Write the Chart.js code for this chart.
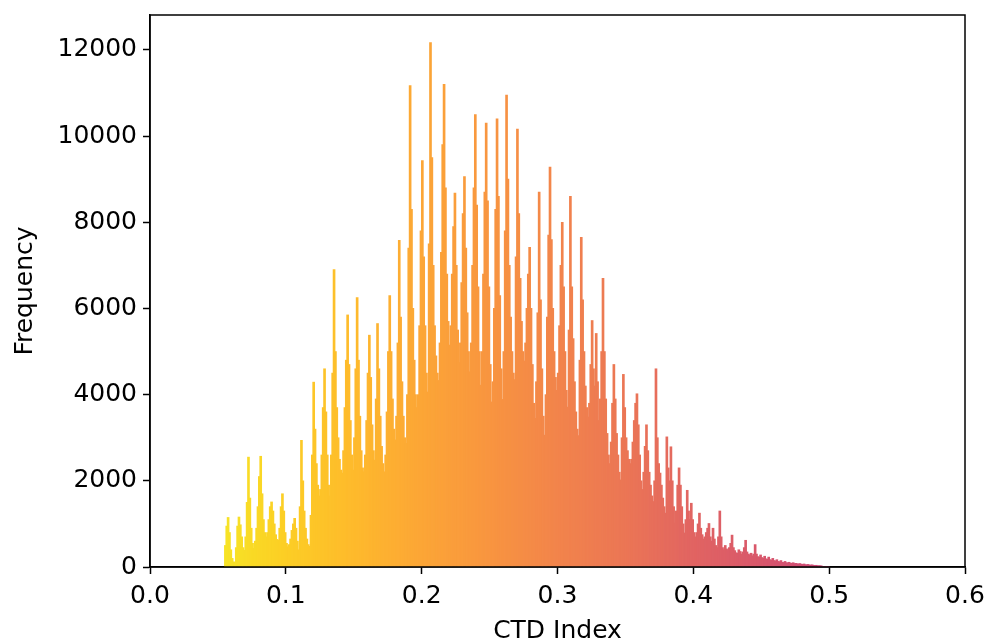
<!DOCTYPE html>
<html>
<head>
<meta charset="utf-8">
<script src="https://cdn.jsdelivr.net/npm/chart.js@4.4.0/dist/chart.umd.min.js"></script>
<style>
  html, body { margin: 0; padding: 0; background: #fff; }
  #wrap { width: 989px; height: 643px; }
</style>
</head>
<body>
<div id="wrap"><canvas id="chart" width="989" height="643"></canvas></div>
<script>
// histogram bins, width 0.001, first bin starts at 0.055
const binStart = 0.055;
const binWidth = 0.001;

// 0.055 - 0.099
const counts005 = [
  500, 950, 1150, 800, 400, 200, 120, 110, 450, 950,
  1160, 980, 700, 450, 390, 700, 1500, 2550, 1600, 900,
  550, 430, 600, 900, 1400, 2100, 2570, 1700, 1100, 800,
  700, 800, 1100, 1400, 1510, 1300, 1000, 750, 640, 620,
  900, 1400, 1700, 1300, 800
];
// 0.100 - 0.199
const counts010 = [
  550, 470, 520, 650, 850, 1000, 1130, 900, 600, 400,
  1400, 2940, 2000, 1300, 900, 650, 520, 480, 1200, 2600,
  4290, 3200, 2400, 1900, 1650, 1800, 2600, 3700, 4600, 3600,
  2600, 1900, 1650, 2600, 4500, 6900, 5000, 3700, 3000, 2500,
  2250, 2180, 2700, 3700, 4800, 5850, 4700, 3400, 2600, 2250,
  3000, 4600, 6250, 4800, 3500, 2700, 2300, 2210, 2600, 3400,
  4500, 5380, 4400, 3300, 2700, 2480, 3900, 5650, 4600, 3500,
  2800, 2400, 2210, 2600, 3600, 5000, 6300, 5000, 3900, 3200,
  2950, 3500, 5200, 7580, 5800, 4300, 3500, 3000, 2870, 4000,
  7400, 11170, 8300, 6000, 4800, 4000, 3700, 4000, 5600, 7800
];
// 0.200 - 0.299
const counts020 = [
  9430, 7200, 5600, 4500, 4060, 7500, 12170, 9500, 7000, 5600,
  4900, 4500, 4330, 5200, 7300, 9800, 11200, 8800, 6800, 5700,
  5150, 5600, 6800, 7900, 8680, 7000, 5500, 4740, 5200, 6600,
  8200, 9060, 7400, 5900, 5000, 4530, 5200, 7000, 8800, 10500,
  8400, 6500, 5000, 4220, 5000, 6800, 8700, 10300, 8500, 6500,
  4700, 3830, 4300, 6000, 8300, 10400, 8600, 6300, 4600, 3890,
  5000, 7800, 10950, 9000, 7000, 5800, 5000, 4500, 4350, 7200,
  10160, 8200, 6700, 5700, 5000, 4780, 5200, 6000, 6800, 7420,
  6000, 4700, 3800, 3450, 4300, 5900, 8700, 6200, 4600, 3500,
  3060, 4000, 5800, 7700, 9280, 7600, 6000, 5000, 4400, 4100
];
// 0.300 - 0.399
const counts030 = [
  4500, 5600, 7000, 8000, 6500, 5000, 4100, 3710, 5500, 8600,
  6500, 5300, 4300, 3600, 3200, 3050, 4800, 7650, 6200, 5000,
  4200, 3700, 3480, 3800, 4700, 5720, 4600, 4200, 5420, 4300,
  3400, 3900, 5000, 6700, 5000, 3900, 3100, 2600, 2400, 2900,
  3800, 4700, 3900, 3100, 2600, 2200, 2020, 3000, 4470, 3700,
  3000, 2700, 2500, 2400, 2500, 2900, 3400, 3800, 4020, 3300,
  2600, 2000, 1800, 2200, 2800, 3300, 2700, 2200, 1900, 1650,
  1520, 2000, 4600, 3000, 2400, 2180, 1900, 1600, 1400, 1250,
  3020, 2300, 2000, 2790, 2000, 1400, 1020, 1300, 1900, 2300,
  1900, 1400, 1000, 790, 1100, 1780, 1300, 1100, 1480, 1100
];
// 0.400 - 0.499
const counts040 = [
  800, 700, 800, 1000, 1250, 900, 750, 650, 700, 800,
  900, 1010, 700, 600, 900, 650, 500, 450, 700, 1300,
  700, 450, 400, 500, 420, 380, 450, 550, 740, 450,
  380, 330, 320, 400, 360, 300, 350, 450, 620, 350,
  300, 280, 320, 260, 300, 520, 300, 240, 230, 280,
  220, 200, 250, 190, 180, 230, 170, 160, 200, 150,
  140, 170, 130, 120, 150, 110, 105, 130, 100, 95,
  110, 90, 85, 100, 80, 85, 75, 70, 80, 65,
  60, 70, 55, 50, 60, 45, 45, 50, 40, 35,
  40, 30, 28, 30, 22, 15, 10, 8, 5, 3
];

const xTicks = [0, 0.1, 0.2, 0.3, 0.4, 0.5, 0.6];
const yTicks = [0, 2000, 4000, 6000, 8000, 10000, 12000];

// matplotlib "plasma" stops, bar colour = plasma(1 - x)
const plasma = [
  [0.45, 190, 55, 130], [0.50, 204, 71, 120], [0.55, 216, 87, 107],
  [0.60, 225, 100, 98], [0.65, 235, 118, 85], [0.70, 242, 132, 75],
  [0.75, 248, 149, 64], [0.80, 252, 166, 54], [0.85, 254, 186, 44],
  [0.90, 252, 206, 37], [0.95, 246, 230, 38], [1.00, 240, 249, 33]
];
function plasmaColor(t) {
  for (let i = 1; i < plasma.length; i++) {
    if (t <= plasma[i][0]) {
      const a = plasma[i - 1], b = plasma[i];
      const f = (t - a[0]) / (b[0] - a[0]);
      const c = [1, 2, 3].map(k => Math.round(a[k] + (b[k] - a[k]) * f));
      return `rgb(${c[0]},${c[1]},${c[2]})`;
    }
  }
  return 'rgb(240,249,33)';
}

const counts = counts005.concat(counts010, counts020, counts030, counts040);
const points = counts.map((c, i) => ({ x: binStart + (i + 0.5) * binWidth, y: c }));
const colors = points.map(p => plasmaColor(1 - p.x));

const frame = {
  id: 'frame',
  afterDatasetsDraw(chart) {
    const { ctx, chartArea: a } = chart;
    ctx.save();
    ctx.strokeStyle = '#000';
    ctx.lineWidth = 1.5;
    ctx.strokeRect(a.left, a.top, a.right - a.left, a.bottom - a.top);
    ctx.restore();
  }
};

const font = { family: 'DejaVu Sans', size: 25 };
const tickGrid = {
  offset: false, drawOnChartArea: false, drawTicks: true,
  tickLength: 7, tickWidth: 1.5, tickColor: '#000'
};

new Chart(document.getElementById('chart'), {
  type: 'bar',
  data: {
    datasets: [{
      data: points,
      backgroundColor: colors,
      borderWidth: 0,
      barThickness: 2,
      grouped: false
    }]
  },
  options: {
    responsive: false,
    animation: false,
    layout: { padding: { left: 0, right: 24, top: 15, bottom: 0 } },
    plugins: { legend: { display: false }, tooltip: { enabled: false } },
    scales: {
      x: {
        type: 'linear',
        min: 0,
        max: 0.6,
        offset: false,
        afterFit: s => { s.height = 76; s.paddingLeft = 0; s.paddingRight = 0; },
        afterBuildTicks: s => { s.ticks = xTicks.map(v => ({ value: v })); },
        grid: tickGrid,
        border: { display: true, color: '#000', width: 1.5 },
        ticks: { color: '#000', font: font, padding: 7, maxRotation: 0, callback: v => v.toFixed(1) },
        title: { display: true, text: 'CTD Index', color: '#000', font: font, padding: { top: 0, bottom: -3 } }
      },
      y: {
        min: 0,
        max: 12810,
        afterFit: s => { s.width = 150; s.paddingTop = 0; s.paddingBottom = 0; },
        afterBuildTicks: s => { s.ticks = yTicks.map(v => ({ value: v })); },
        grid: tickGrid,
        border: { display: true, color: '#000', width: 1.5 },
        ticks: { color: '#000', font: font, padding: 6, callback: v => String(v) },
        title: { display: true, text: 'Frequency', color: '#000', font: font, padding: { top: 10, bottom: 0 } }
      }
    }
  },
  plugins: [frame]
});
</script>
</body>
</html>
